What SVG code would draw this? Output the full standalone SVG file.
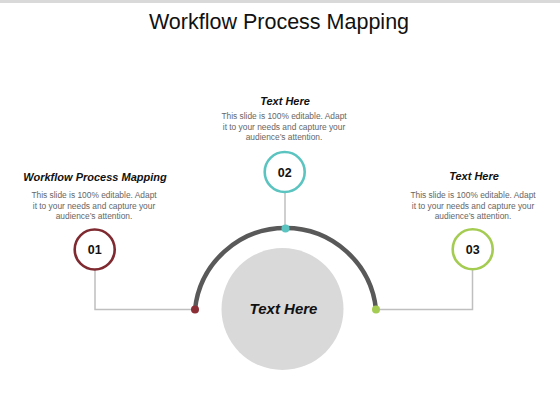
<svg xmlns="http://www.w3.org/2000/svg" width="560" height="420" viewBox="0 0 560 420">
<style>
.title{font-family:"Liberation Sans",Arial,sans-serif;font-size:21.5px;fill:#111;text-anchor:middle}
.head{font-family:"Liberation Sans",Arial,sans-serif;font-size:11px;font-weight:bold;font-style:italic;fill:#111;text-anchor:middle}
.desc{font-family:"Liberation Sans",Arial,sans-serif;font-size:8.4px;fill:#666;text-anchor:middle}
.num{font-family:"Liberation Sans",Arial,sans-serif;font-size:12.5px;font-weight:bold;fill:#111;text-anchor:middle}
.ring{fill:#fff;stroke-width:2.6}
.conn{fill:none;stroke:#BFBFBF;stroke-width:1.5}
</style>
<rect x="0" y="0" width="560" height="420" fill="#fff"/>
<rect x="0" y="0" width="560" height="3" fill="#D9D9D9"/>
<text class="title" x="279" y="29">Workflow Process Mapping</text>
<g id="connectors">
<polyline class="conn" points="95,270 95,309.5 195,309.5"/>
<line class="conn" x1="285" y1="193" x2="285" y2="228"/>
<polyline class="conn" points="472.5,270 472.5,309.5 376,309.5"/>
</g>
<g id="arc">
<path d="M195,309.5 A91,91 0 0 1 376,309.5" fill="none" stroke="#595959" stroke-width="4.5"/>
</g>
<g id="center">
<circle cx="282.5" cy="309" r="61" fill="#D9D9D9"/>
<text class="head" x="283.5" y="314" style="font-size:15px">Text Here</text>
</g>
<g id="dots">
<circle cx="195" cy="309.5" r="4" fill="#8B2E35"/>
<circle cx="285.5" cy="228.5" r="4" fill="#5BC4C0"/>
<circle cx="376" cy="309.5" r="4" fill="#A5CC52"/>
</g>
<g id="node01">
<circle class="ring" cx="94.7" cy="249.5" r="20" stroke="#7F2A30"/>
<text class="num" x="94.7" y="254">01</text>
<text class="head" x="95" y="181">Workflow Process Mapping</text>
<text class="desc" x="94" y="198">This slide is 100% editable.  Adapt</text>
<text class="desc" x="94" y="208.5">it to your needs and capture your</text>
<text class="desc" x="94" y="219">audience’s attention.</text>
</g>
<g id="node02">
<circle class="ring" cx="284.7" cy="172" r="20" stroke="#5BC4C0"/>
<text class="num" x="284.7" y="176.5">02</text>
<text class="head" x="285" y="105">Text Here</text>
<text class="desc" x="284" y="119">This slide is 100% editable.  Adapt</text>
<text class="desc" x="284" y="129.5">it to your needs and capture your</text>
<text class="desc" x="284" y="140">audience’s attention.</text>
</g>
<g id="node03">
<circle class="ring" cx="472.7" cy="249.3" r="20" stroke="#A5CC52"/>
<text class="num" x="472.7" y="254">03</text>
<text class="head" x="474" y="180">Text Here</text>
<text class="desc" x="473" y="198">This slide is 100% editable.  Adapt</text>
<text class="desc" x="473" y="208.5">it to your needs and capture your</text>
<text class="desc" x="473" y="219">audience’s attention.</text>
</g>
</svg>
